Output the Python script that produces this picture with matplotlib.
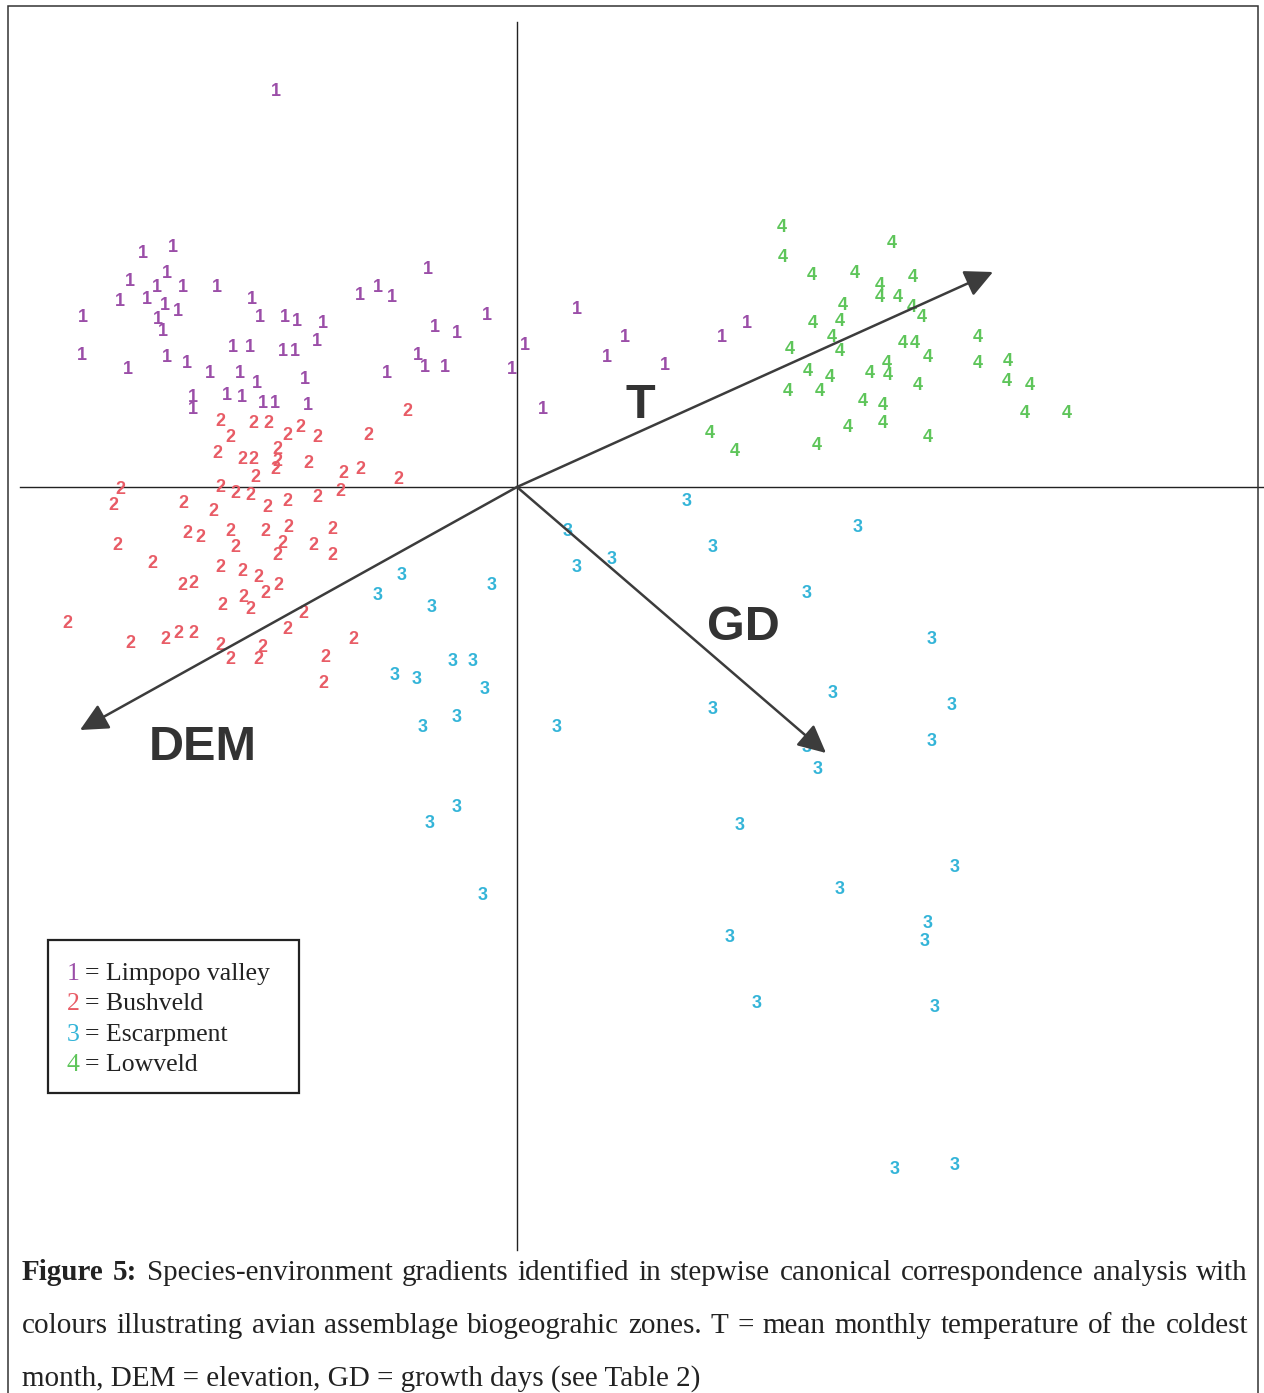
"""
CCA ordination biplot: species-environment gradients with avian
assemblage biogeographic zones (1-4) and environmental vectors.
"""

import matplotlib
matplotlib.use("Agg")
import matplotlib.pyplot as plt
from matplotlib.patches import Rectangle

# --- site scores (axis 1, axis 2) ---
limpopo_x = [-2.41, -3.74, -3.44, -3.87, -3.50, -3.60, -3.34, -3.00, -3.97, -3.70,
             -3.52, -3.59, -3.54, -3.39, -4.34, -2.65, -2.57, -2.32, -2.20, -1.94,
             -2.00, -4.35, -3.89, -3.50, -3.30, -3.07, -2.84, -2.67, -2.34, -2.22,
             -2.77, -2.60, -2.12, -3.24, -3.24, -2.90, -2.75, -2.54, -2.42, -2.09,
             -0.89, -1.57, -1.39, -1.25, -0.30, -0.82, -0.60, -0.99, -0.92, -0.72,
             -1.30, -0.05, 0.08, 0.60, 1.08, 0.90, 1.48, 0.26, 2.05, 2.30]
limpopo_y = [3.95, 2.34, 2.40, 2.05, 2.14, 1.99, 1.99, 2.00, 1.85, 1.87,
             1.82, 1.67, 1.55, 1.75, 1.69, 1.87, 1.69, 1.69, 1.65, 1.64,
             1.45, 1.32, 1.17, 1.30, 1.24, 1.14, 1.40, 1.40, 1.35, 1.35,
             1.14, 1.04, 1.07, 0.90, 0.77, 0.92, 0.90, 0.83, 0.84, 0.82,
             2.17, 1.92, 1.99, 1.90, 1.72, 1.59, 1.54, 1.32, 1.20, 1.19,
             1.14, 1.17, 1.42, 1.77, 1.50, 1.29, 1.22, 0.77, 1.50, 1.64]

bushveld_x = [-1.10, -2.97, -2.87, -2.64, -2.49, -2.30, -2.17, -2.00, -1.49, -3.00,
              -2.75, -2.64, -2.40, -2.40, -2.42, -2.09, -1.74, -1.57, -1.19, -2.62,
              -2.97, -2.82, -2.67, -3.97, -4.04, -3.34, -3.04, -2.50, -2.30, -2.00,
              -1.77, -4.00, -3.65, -3.30, -3.17, -2.87, -2.82, -2.52, -2.29, -2.35,
              -2.40, -2.04, -1.85, -1.85, -3.35, -3.24, -2.97, -2.75, -2.59, -2.52,
              -2.39, -2.95, -2.74, -2.67, -4.50, -3.87, -3.52, -3.39, -3.24, -2.97,
              -2.87, -2.55, -2.59, -2.30, -2.14, -1.64, -1.92, -1.94]
bushveld_y = [0.75, 0.65, 0.50, 0.64, 0.64, 0.52, 0.60, 0.50, 0.52, 0.34,
              0.27, 0.27, 0.37, 0.25, 0.17, 0.24, 0.14, 0.17, 0.07, 0.09,
              0.00, -0.06, -0.08, -0.03, -0.18, -0.16, -0.25, -0.20, -0.15, -0.11,
              -0.05, -0.58, -0.76, -0.46, -0.51, -0.45, -0.61, -0.45, -0.41, -0.56,
              -0.68, -0.58, -0.43, -0.68, -0.98, -0.96, -0.81, -0.85, -0.90, -1.06,
              -0.98, -1.18, -1.10, -1.23, -1.36, -1.56, -1.53, -1.46, -1.46, -1.58,
              -1.73, -1.60, -1.73, -1.43, -1.26, -1.53, -1.70, -1.96]

escarp_x = [0.51, 0.60, 0.95, -1.15, -1.39, -0.25, -0.85, -1.22, -1.00, -0.64,
            -0.44, -0.32, -0.60, -0.94, 0.40, -0.60, -0.87, -0.34, 1.70, 3.41,
            1.96, 2.90, 4.15, 3.16, 4.35, 1.96, 4.15, 2.90, 3.01, 2.23,
            4.38, 3.23, 4.11, 4.08, 2.13, 2.40, 4.18, 3.78, 4.38]
escarp_y = [-0.45, -0.80, -0.73, -0.88, -1.08, -0.98, -1.21, -1.88, -1.93, -1.75,
            -1.75, -2.03, -2.31, -2.41, -2.40, -3.21, -3.36, -4.08, -0.15, -0.40,
            -0.60, -1.06, -1.53, -2.06, -2.18, -2.23, -2.55, -2.60, -2.83, -3.38,
            -3.80, -4.03, -4.36, -4.55, -4.51, -5.16, -5.21, -6.83, -6.78]

lowveld_x = [2.65, 2.66, 3.75, 2.95, 3.38, 3.63, 3.63, 3.81, 3.96, 3.26,
             3.95, 4.05, 2.96, 3.23, 3.15, 3.23, 2.73, 3.86, 3.98, 4.11,
             4.61, 4.61, 4.91, 4.90, 5.13, 2.91, 3.13, 3.03, 2.71, 3.53,
             3.70, 3.71, 4.01, 3.46, 3.66, 3.66, 3.31, 4.11, 3.00, 5.08,
             5.50, 1.93, 2.18]
lowveld_y = [2.60, 2.30, 2.44, 2.12, 2.14, 2.02, 1.90, 1.90, 2.09, 1.82,
             1.79, 1.69, 1.64, 1.65, 1.49, 1.35, 1.37, 1.44, 1.44, 1.30,
             1.49, 1.24, 1.25, 1.05, 1.02, 1.15, 1.10, 0.95, 0.95, 1.14,
             1.24, 1.12, 1.02, 0.85, 0.82, 0.64, 0.59, 0.49, 0.42, 0.74,
             0.74, 0.54, 0.35]

zone_labels = ["Limpopo valley", "Bushveld", "Escarpment", "Lowveld"]
zone_colors = ["#9b4ea8", "#e85c66", "#33b4d8", "#5ec55a"]

# --- environmental biplot vectors ---
env_names = ["T", "DEM", "GD"]
env_x = [4.76, -4.37, 3.09]
env_y = [2.15, -2.43, -2.66]
env_label_x = [1.23, -3.14, 2.26]
env_label_y = [0.82, -2.60, -1.40]

caption_lines = [
    "Figure 5: Species-environment gradients identified in stepwise canonical "
    "correspondence analysis with",
    "colours illustrating avian assemblage biogeograhic zones. T = mean monthly "
    "temperature of the coldest",
    "month, DEM = elevation, GD = growth days (see Table 2)",
]

W, H = 1264, 1393
fig = plt.figure(figsize=(W / 100, H / 100), dpi=100)
ax = fig.add_axes([0, 0, 1, 1])
ax.set_xlim(-5.17, 7.47)
ax.set_ylim(-9.06, 4.87)
ax.axis("off")

# ordination axes
ax.plot([0, 0], [-7.63, 4.65], color="#222222", lw=1.0, zorder=1)
ax.plot([-4.97, 7.47], [0, 0], color="#222222", lw=1.0, zorder=1)

groups = [(limpopo_x, limpopo_y), (bushveld_x, bushveld_y),
          (escarp_x, escarp_y), (lowveld_x, lowveld_y)]
for i, (gx, gy) in enumerate(groups):
    for x, y in zip(gx, gy):
        ax.text(x, y, str(i + 1), color=zone_colors[i], fontsize=13,
                fontweight="bold", family="Liberation Sans",
                ha="center", va="center", zorder=3)

for name, ex, ey, lx, ly in zip(env_names, env_x, env_y, env_label_x, env_label_y):
    ax.annotate("", xy=(ex, ey), xytext=(0, 0),
                arrowprops=dict(arrowstyle="-|>,head_length=0.45,head_width=0.22",
                                color="#3c3c3c", lw=1.8, mutation_scale=38,
                                shrinkA=0, shrinkB=0), zorder=4)
    ax.text(lx, ly, name, fontsize=35, fontweight="bold", color="#333333",
            family="Liberation Sans", ha="center", va="center", zorder=5)

# outer frame
fig.patches.append(Rectangle((8 / W, -0.01), 1250 / W, 1 - 6 / H + 0.01,
                             transform=fig.transFigure, fill=False,
                             edgecolor="#333333", lw=1.1))

# legend box
fig.patches.append(Rectangle((48 / W, 1 - 1093 / H), 251 / W, 153 / H,
                             transform=fig.transFigure, fill=False,
                             edgecolor="#222222", lw=1.6))
for i, lab in enumerate(zone_labels):
    yb = 1 - (980 + 30.3 * i) / H
    fig.text(73 / W, yb, str(i + 1), color=zone_colors[i], fontsize=18.5,
             family="Liberation Serif", ha="center", va="baseline")
    fig.text(85 / W, yb, "= " + lab, color="#222222", fontsize=18.5,
             family="Liberation Serif", ha="left", va="baseline")

# caption, justified on the first two lines
fig.canvas.draw()
renderer = fig.canvas.get_renderer()
left, right = 22, 1248
baselines = [1280, 1333, 1386]
for li, line in enumerate(caption_lines):
    yb = 1 - baselines[li] / H
    if li == len(caption_lines) - 1:
        fig.text(left / W, yb, line, fontsize=21, family="Liberation Serif",
                 color="#222222", ha="left", va="baseline")
        continue
    words = line.split(" ")
    texts = []
    for wi, w in enumerate(words):
        bold = li == 0 and wi < 2
        t = fig.text(0, yb, w, fontsize=21, family="Liberation Serif",
                     fontweight="bold" if bold else "normal",
                     color="#222222", ha="left", va="baseline")
        texts.append(t)
    widths = [t.get_window_extent(renderer).width for t in texts]
    gap = (right - left - sum(widths)) / (len(words) - 1)
    x = left
    for t, wdt in zip(texts, widths):
        t.set_x(x / W)
        x += wdt + gap

fig.savefig("out.png", dpi=100)
